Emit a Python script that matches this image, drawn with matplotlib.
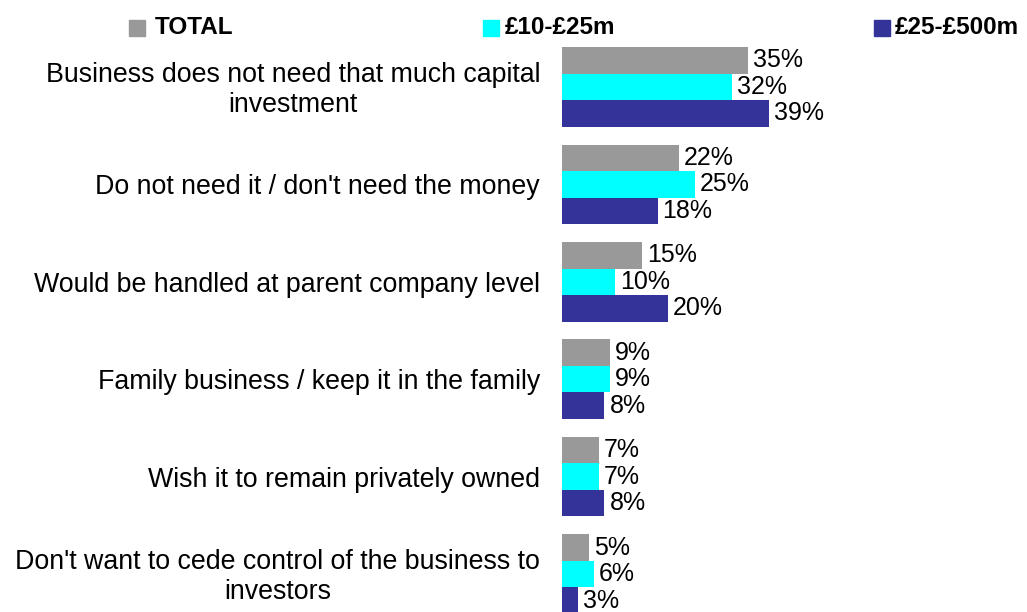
import matplotlib.pyplot as plt
import matplotlib.patches as mpatches
import numpy as np

plt.rcParams['font.family'] = ['Liberation Sans', 'DejaVu Sans']

reasons = [
    "Business does not need that much capital\ninvestment",
    "Do not need it / don't need the money",
    "Would be handled at parent company level",
    "Family business / keep it in the family",
    "Wish it to remain privately owned",
    "Don't want to cede control of the business to\ninvestors",
]
series_names = ["TOTAL", "£10-£25m", "£25-£500m"]
total = [35, 22, 15, 9, 7, 5]
small = [32, 25, 10, 9, 7, 6]
large = [39, 18, 20, 8, 8, 3]
colors = ["#999999", "#00FFFF", "#333399"]

fig = plt.figure(figsize=(10.27, 6.12), dpi=100)
ax = fig.add_axes([562 / 1027, 0, 1 - 562 / 1027, 1])

y = np.arange(len(reasons))
h = 0.272
for k, (vals, col) in enumerate(zip([total, small, large], colors)):
    pos = y + (k - 1) * h
    ax.barh(pos, vals, height=h, color=col, edgecolor='none')
    for p, v in zip(pos, vals):
        ax.annotate(f"{v}%", xy=(v, p), xytext=(5, 0), textcoords='offset pixels',
                    va='center', ha='left', fontsize=18)

ax.set_xlim(0, 465 / 5.31)
ax.set_ylim(5.39, -0.893)
ax.axis('off')

# category labels to the left of the bars
for i, lab in enumerate(reasons):
    ax.annotate(lab, xy=(0, i), xycoords='data', xytext=(-22, -3),
                textcoords='offset pixels', ha='right', va='center',
                multialignment='center', fontsize=19.3, linespacing=1.2)

# legend along the top
sq_x = [129, 483, 874]
txt_x = [155, 505, 895]
for name, col, sx, tx in zip(series_names, colors, sq_x, txt_x):
    fig.patches.append(mpatches.Rectangle((sx / 1027, 1 - 36 / 612), 16 / 1027, 16 / 612,
                                          transform=fig.transFigure, color=col))
    fig.text(tx / 1027, 1 - 28 / 612, name, fontsize=17.5, fontweight='bold',
             va='center', ha='left')

fig.savefig('out.png', dpi=100, facecolor='white')
